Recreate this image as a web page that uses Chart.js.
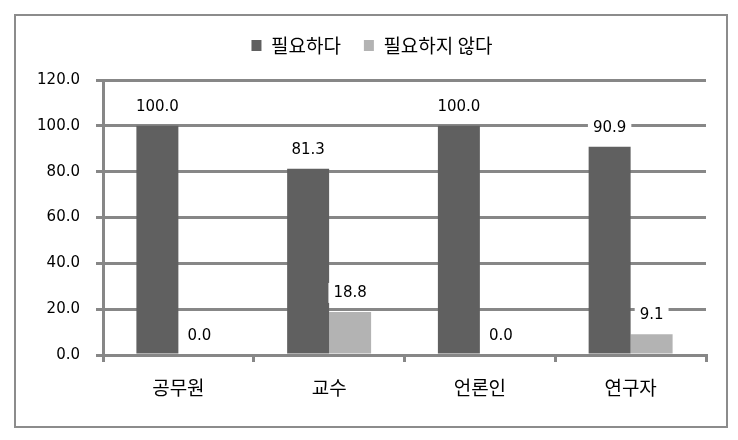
<!DOCTYPE html>
<html>
<head>
<meta charset="utf-8">
<script src="https://cdn.jsdelivr.net/npm/chart.js@4"></script>
<style>
  html, body { margin: 0; padding: 0; background: #fff; }
  #wrap { width: 738px; height: 440px; }
</style>
</head>
<body>
<div id="wrap"><canvas id="chart" width="738" height="440"></canvas></div>
<script>
const categories = ['공무원', '교수', '언론인', '연구자'];
const seriesNames = ['필요하다', '필요하지 않다'];
const needed = [100.0, 81.3, 100.0, 90.9];
const notNeeded = [0.0, 18.8, 0.0, 9.1];
const yTicks = [0, 20, 40, 60, 80, 100, 120];

const darkColor = '#606060';
const lightColor = '#b3b3b3';
const gridColor = '#878787';
const numFamily = '"DejaVu Sans", sans-serif';
const korFamily = '"Noto Sans CJK KR", sans-serif';

// outer frame around the whole chart, extra gap under the legend,
// and legend centred on the full canvas width
const framePlugin = {
    id: 'frame',
    beforeInit(chart) {
        const origFit = chart.legend.fit;
        chart.legend.fit = function () {
            origFit.call(this);
            this.height += 15;
        };
    },
    afterLayout(chart) {
        const lg = chart.legend;
        lg.left = 0;
        lg.right = 744;
        lg.width = 744;
    },
    beforeDraw(chart) {
        const ctx = chart.ctx;
        ctx.save();
        ctx.fillStyle = '#fff';
        ctx.fillRect(0, 0, chart.width, chart.height);
        ctx.strokeStyle = '#8c8c8c';
        ctx.lineWidth = 2;
        ctx.strokeRect(15, 15, 712, 412);
        ctx.restore();
    }
};

// value labels with white boxes above each bar
const valueLabels = {
    id: 'valueLabels',
    afterDatasetsDraw(chart) {
        const ctx = chart.ctx;
        ctx.save();
        ctx.font = '15px ' + numFamily;
        ctx.textAlign = 'center';
        ctx.textBaseline = 'middle';
        chart.data.datasets.forEach((ds, i) => {
            chart.getDatasetMeta(i).data.forEach((bar, j) => {
                const txt = ds.data[j].toFixed(1);
                const w = ctx.measureText(txt).width + 10;
                const cy = bar.y - 19;
                ctx.fillStyle = '#fff';
                ctx.fillRect(bar.x - w / 2, cy - 10, w, 20);
                ctx.fillStyle = '#000';
                ctx.fillText(txt, bar.x, cy);
            });
        });
        ctx.restore();
    }
};

new Chart(document.getElementById('chart'), {
    type: 'bar',
    data: {
        labels: categories,
        datasets: [
            { label: seriesNames[0], data: needed, backgroundColor: darkColor },
            { label: seriesNames[1], data: notNeeded, backgroundColor: lightColor }
        ]
    },
    options: {
        responsive: false,
        animation: false,
        devicePixelRatio: 1,
        layout: { padding: { left: 0, right: 32, top: 13, bottom: 0 } },
        datasets: { bar: { categoryPercentage: 0.557, barPercentage: 1.0 } },
        plugins: {
            legend: {
                position: 'top',
                labels: {
                    boxWidth: 10,
                    boxHeight: 11,
                    padding: 23,
                    color: '#000',
                    font: { family: korFamily, size: 19 }
                }
            },
            tooltip: { enabled: false }
        },
        scales: {
            x: {
                afterFit(scale) { scale.height = 85; },
                grid: { drawOnChartArea: false, color: gridColor, lineWidth: 3, tickLength: 7 },
                border: { color: gridColor, width: 3 },
                ticks: { color: '#000', font: { family: korFamily, size: 19 }, padding: 14 }
            },
            y: {
                min: 0,
                max: 120,
                afterFit(scale) { scale.width = 103; },
                afterBuildTicks(scale) { scale.ticks = yTicks.map(v => ({ value: v })); },
                grid: { color: gridColor, lineWidth: 3, tickLength: 7 },
                border: { color: gridColor, width: 3 },
                ticks: {
                    color: '#000',
                    font: { family: numFamily, size: 15 },
                    padding: 16,
                    callback: v => v.toFixed(1)
                }
            }
        }
    },
    plugins: [framePlugin, valueLabels]
});
</script>
</body>
</html>
